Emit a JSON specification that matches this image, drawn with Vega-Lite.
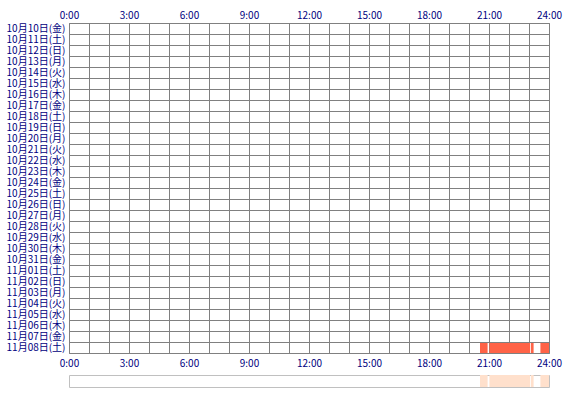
{
  "$schema": "https://vega.github.io/schema/vega-lite/v6.json",
  "background": "white",
  "padding": {"left": 5, "top": 9, "right": 5, "bottom": 5},
  "spacing": 22,
  "bounds": "flush",
  "datasets": {
    "days": [
      {"day": "10月10日(金)"}, {"day": "10月11日(土)"}, {"day": "10月12日(日)"},
      {"day": "10月13日(月)"}, {"day": "10月14日(火)"}, {"day": "10月15日(水)"},
      {"day": "10月16日(木)"}, {"day": "10月17日(金)"}, {"day": "10月18日(土)"},
      {"day": "10月19日(日)"}, {"day": "10月20日(月)"}, {"day": "10月21日(火)"},
      {"day": "10月22日(水)"}, {"day": "10月23日(木)"}, {"day": "10月24日(金)"},
      {"day": "10月25日(土)"}, {"day": "10月26日(日)"}, {"day": "10月27日(月)"},
      {"day": "10月28日(火)"}, {"day": "10月29日(水)"}, {"day": "10月30日(木)"},
      {"day": "10月31日(金)"}, {"day": "11月01日(土)"}, {"day": "11月02日(日)"},
      {"day": "11月03日(月)"}, {"day": "11月04日(火)"}, {"day": "11月05日(水)"},
      {"day": "11月06日(木)"}, {"day": "11月07日(金)"}, {"day": "11月08日(土)"}
    ],
    "usage": [
      {"day": "11月08日(土)", "start": 20.55, "end": 20.93},
      {"day": "11月08日(土)", "start": 21.02, "end": 23.06},
      {"day": "11月08日(土)", "start": 23.1, "end": 23.23},
      {"day": "11月08日(土)", "start": 23.57, "end": 24}
    ]
  },
  "config": {
    "font": "Noto Sans CJK JP",
    "axis": {
      "labelColor": "#000080",
      "labelFont": "Noto Sans CJK JP",
      "labelFontSize": 10,
      "ticks": false,
      "domain": false,
      "title": null,
      "labelOverlap": false,
      "labelFlush": false
    },
    "view": {"stroke": "#808080"}
  },
  "vconcat": [
    {
      "width": 480,
      "height": 330,
      "layer": [
        {
          "data": {"name": "days"},
          "mark": {"type": "rect", "opacity": 0},
          "encoding": {
            "y": {
              "field": "day",
              "type": "ordinal",
              "sort": null,
              "scale": {"paddingInner": 0, "paddingOuter": 0},
              "axis": {
                "grid": true,
                "gridColor": "#808080",
                "gridOpacity": 1,
                "tickBand": "extent",
                "labelPadding": 4
              }
            },
            "x": {
              "datum": 0,
              "type": "quantitative",
              "scale": {"domain": [0, 24], "nice": false, "zero": false},
              "axis": {
                "orient": "top",
                "values": [0, 1, 2, 3, 4, 5, 6, 7, 8, 9, 10, 11, 12, 13, 14, 15, 16, 17, 18, 19, 20, 21, 22, 23, 24],
                "grid": true,
                "gridColor": "#808080",
                "gridOpacity": 1,
                "labelPadding": 3,
                "labelExpr": "datum.value % 3 != 0 ? '' : datum.value < 10 ? datum.value + ':00\u00a0\u00a0' : datum.value + ':00'"
              }
            },
            "x2": {"datum": 24}
          }
        },
        {
          "data": {"name": "usage"},
          "mark": {"type": "rect", "color": "#ff6347"},
          "encoding": {
            "y": {"field": "day", "type": "ordinal", "sort": null},
            "x": {
              "field": "start",
              "type": "quantitative",
              "axis": {
                "orient": "bottom",
                "values": [0, 3, 6, 9, 12, 15, 18, 21, 24],
                "grid": false,
                "labelPadding": 5,
                "labelExpr": "datum.value < 10 ? datum.value + ':00\u00a0\u00a0' : datum.value + ':00'"
              }
            },
            "x2": {"field": "end"}
          }
        }
      ],
      "resolve": {"axis": {"x": "independent"}}
    },
    {
      "width": 480,
      "height": 12,
      "data": {"name": "usage"},
      "mark": {"type": "rect", "color": "#ffe0cc"},
      "encoding": {
        "x": {
          "field": "start",
          "type": "quantitative",
          "scale": {"domain": [0, 24], "nice": false, "zero": false},
          "axis": null
        },
        "x2": {"field": "end"}
      },
      "view": {"stroke": "#c0c0c0"}
    }
  ]
}
